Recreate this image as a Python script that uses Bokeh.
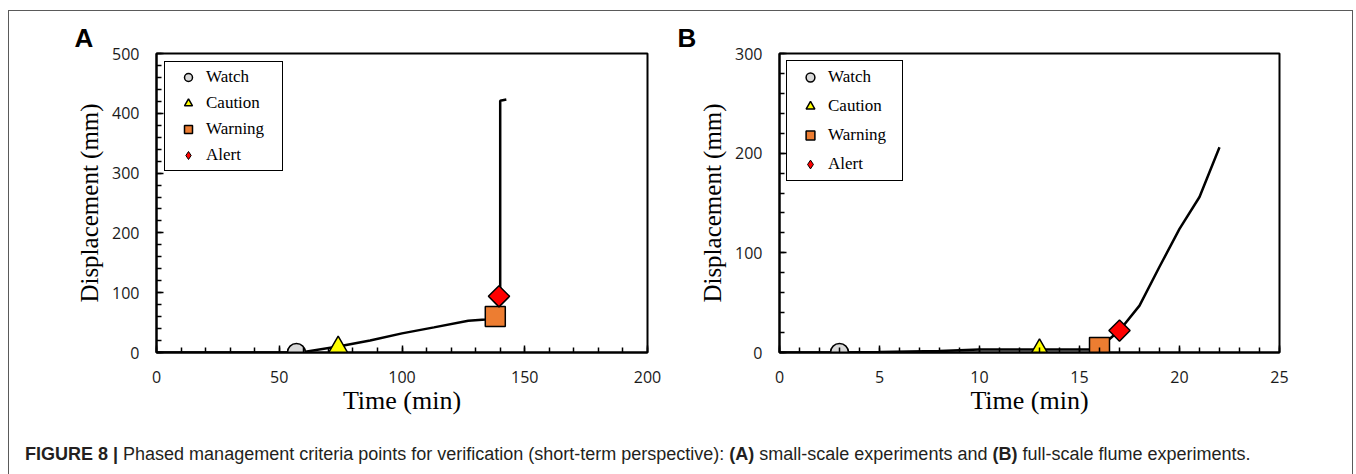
import math
from bokeh.plotting import figure
from bokeh.models import Range1d, SingleIntervalTicker, Legend, LegendItem, Div
from bokeh.layouts import row, column
from bokeh.embed import file_html
from bokeh.resources import INLINE

# ---------------- data ----------------
stage_names = ["Watch", "Caution", "Warning", "Alert"]
stage_colors = ["#d9d9d9", "#ffff00", "#ed7d31", "#ff0000"]

# Panel A: small-scale experiments
a_time = [0, 57, 60, 74, 87, 100, 113, 127, 134, 137, 139.5, 140, 140, 142.5]
a_disp = [0, 0, 1, 10, 20, 32, 42, 53, 55, 56, 60, 95, 421, 423]
a_stage_time = [57, 74, 138, 139.5]
a_stage_disp = [0, 8, 60, 94]

# Panel B: full-scale flume experiments
b_time = [0, 3, 5, 8, 10, 13, 15.5, 16, 17, 18, 19, 20, 21, 22]
b_disp = [0, 0, 0.5, 1.5, 3, 3, 3, 5, 22, 47, 86, 124, 156, 206]
b_stage_time = [3, 13, 16, 17]
b_stage_disp = [0, 2, 5, 22]

caption_html = ('<b>FIGURE 8 |</b> Phased management criteria points for verification '
                '(short-term perspective): <b>(A)</b> small-scale experiments and '
                '<b>(B)</b> full-scale flume experiments.')

SERIF = "Liberation Serif"
SANS = "Open Sans"


def make_panel(letter, t, d, st, sd, xmax, ymax, xint, yint, width, mbl, mbr,
               letter_offset, leg_margin, leg_lw, leg_spacing, leg_h):
    p = figure(width=width, height=419, output_backend="svg", toolbar_location=None,
               x_range=Range1d(0, xmax), y_range=Range1d(0, ymax),
               min_border_left=mbl, min_border_right=mbr, min_border_top=42,
               min_border_bottom=78)
    p.grid.visible = False
    p.outline_line_color = "black"
    p.outline_line_width = 2
    p.outline_line_alpha = 1

    # panel letter as the figure title
    p.title.text = letter
    p.title.align = "left"
    p.title.offset = letter_offset
    p.title.standoff = 1
    p.title.text_font = "Liberation Sans"
    p.title.text_font_style = "bold"
    p.title.text_font_size = "26px"
    p.title.text_color = "black"

    p.xaxis.ticker = SingleIntervalTicker(interval=xint, num_minor_ticks=5)
    p.yaxis.ticker = SingleIntervalTicker(interval=yint, num_minor_ticks=5)
    p.xaxis.axis_label = "Time (min)"
    p.yaxis.axis_label = "Displacement (mm)"
    for ax in (p.xaxis[0], p.yaxis[0]):
        ax.axis_line_width = 2
        ax.axis_line_color = "black"
        ax.major_tick_in = 7
        ax.major_tick_out = 0
        ax.minor_tick_in = 5
        ax.minor_tick_out = 0
        ax.major_tick_line_width = 1.5
        ax.minor_tick_line_width = 1.5
        ax.major_tick_line_color = "black"
        ax.minor_tick_line_color = "black"
        ax.major_label_text_font = SANS
        ax.major_label_text_font_size = "16px"
        ax.major_label_text_color = "#1a1a1a"
        ax.axis_label_text_font = SERIF
        ax.axis_label_text_font_style = "normal"
        ax.axis_label_text_color = "black"
    p.xaxis.axis_label_text_font_size = "26px"
    p.yaxis.axis_label_text_font_size = "25px"
    p.xaxis.major_label_standoff = 18
    p.xaxis.axis_label_standoff = 0
    p.yaxis.major_label_standoff = 17
    p.yaxis.axis_label_standoff = 6

    p.line(t, d, line_color="black", line_width=2.5)

    r_watch = p.scatter([st[0]], [sd[0]], marker="circle", size=18,
                        fill_color=stage_colors[0], line_color="black", line_width=1.5)
    r_caution = p.scatter([st[1]], [sd[1]], marker="triangle", size=20,
                          fill_color=stage_colors[1], line_color="black", line_width=1.5)
    r_warning = p.scatter([st[2]], [sd[2]], marker="square", size=20,
                          fill_color=stage_colors[2], line_color="black", line_width=1.5)
    p.scatter([st[3]], [sd[3]], marker="square", size=15, angle=math.pi / 4,
              fill_color=stage_colors[3], line_color="black", line_width=1.5)
    # legend proxy for the diamond (legend glyphs ignore angle)
    r_alert_leg = p.scatter([float("nan")], [float("nan")], marker="diamond", size=20,
                            fill_color=stage_colors[3], line_color="black", line_width=1)

    legend = Legend(
        items=[LegendItem(label=stage_names[0], renderers=[r_watch]),
               LegendItem(label=stage_names[1], renderers=[r_caution]),
               LegendItem(label=stage_names[2], renderers=[r_warning]),
               LegendItem(label=stage_names[3], renderers=[r_alert_leg])],
        location="top_left", margin=leg_margin, padding=5, spacing=leg_spacing,
        glyph_width=36, glyph_height=leg_h, label_height=leg_h, label_width=leg_lw,
        label_standoff=0, label_text_font=SERIF, label_text_font_size="17px",
        label_text_color="black",
        border_line_color="black", border_line_width=1.5, border_line_alpha=1,
        background_fill_color="white", background_fill_alpha=1)
    p.add_layout(legend)
    return p


pA = make_panel("A", a_time, a_disp, a_stage_time, a_stage_disp, 200, 500, 50, 100,
                width=667, mbl=147, mbr=29, letter_offset=-82, leg_margin=8,
                leg_lw=71, leg_spacing=6, leg_h=20)
pB = make_panel("B", b_time, b_disp, b_stage_time, b_stage_disp, 25, 300, 5, 100,
                width=676, mbl=103, mbr=73, letter_offset=-102, leg_margin=7,
                leg_lw=69, leg_spacing=7, leg_h=22)

cap = Div(text=caption_html, width=1300, height=35,
          styles={"font-family": "'Liberation Sans', Arial, sans-serif", "font-size": "18px",
                  "line-height": "20px", "padding-left": "11px", "padding-top": "9px",
                  "white-space": "nowrap", "color": "#231f20"})

layout = column(row(pA, pB), cap, margin=(10, 0, 0, 8),
                styles={"border-top": "1px solid #5a5a5a", "border-left": "1px solid #5a5a5a",
                        "border-right": "1px solid #5a5a5a"})

open("out.html", "w").write(file_html(layout, INLINE))
